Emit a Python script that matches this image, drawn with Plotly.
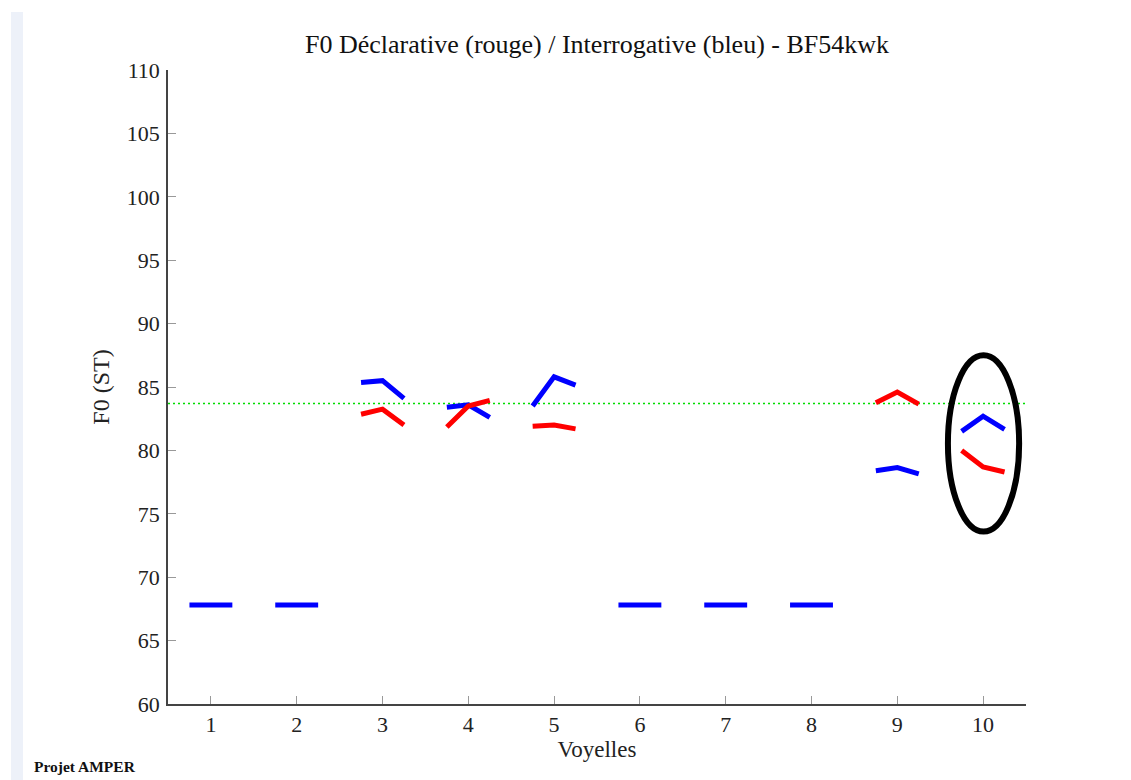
import plotly.graph_objects as go

# Vowel indices and within-vowel sample offsets (start, middle, end)
vowels = [1, 2, 3, 4, 5, 6, 7, 8, 9, 10]
offsets = [-0.25, 0.0, 0.25]

# F0 (ST) - interrogative (blue), three samples per vowel
blue_f0 = [
    [67.8, 67.8, 67.8],
    [67.8, 67.8, 67.8],
    [85.35, 85.5, 84.1],
    [83.4, 83.6, 82.6],
    [83.5, 85.8, 85.15],
    [67.8, 67.8, 67.8],
    [67.8, 67.8, 67.8],
    [67.8, 67.8, 67.8],
    [78.4, 78.65, 78.15],
    [81.5, 82.7, 81.65],
]

# F0 (ST) - declarative (red); None where no value
red_f0 = [
    None,
    None,
    [82.85, 83.25, 82.0],
    [81.85, 83.5, 83.95],
    [81.9, 82.0, 81.7],
    None,
    None,
    None,
    [83.75, 84.6, 83.65],
    [80.0, 78.7, 78.3],
]

reference_f0 = 83.7
y_ticks = [60, 65, 70, 75, 80, 85, 90, 95, 100, 105, 110]
highlight_box = [9.59, 10.42, 73.6, 87.5]  # x0, x1, y0, y1 of the circled vowel

SERIF = "Liberation Serif, Times New Roman, serif"

# page offset (body margin) compensation
W, H = 1123, 772
L, R, T, B = 160, 105, 62, 76
PW = W - L - R
PH = H - T - B

fig = go.Figure()

def add_series(values, color):
    for v, seg in zip(vowels, values):
        if seg is None:
            continue
        fig.add_trace(go.Scatter(
            x=[v + o for o in offsets], y=seg, mode="lines",
            line=dict(color=color, width=5), showlegend=False,
            hoverinfo="skip"))

fig.add_trace(go.Scatter(
    x=[0.5, 10.5], y=[reference_f0, reference_f0], mode="lines",
    line=dict(color="#00dd00", width=1.5, dash="2px,3px"), showlegend=False))

add_series(blue_f0, "#0000ff")
add_series(red_f0, "#ff0000")

fig.add_shape(type="circle", xref="x", yref="y",
              x0=highlight_box[0], x1=highlight_box[1],
              y0=highlight_box[2], y1=highlight_box[3],
              line=dict(color="black", width=6))

# light stripe at left edge of the page
fig.add_shape(type="rect", xref="paper", yref="paper",
              x0=(3 - L) / PW, x1=(15 - L) / PW,
              y0=-(H - T - PH) / PH - 0.01, y1=(T - 4) / PH + 1,
              fillcolor="#edf1f9", line=dict(width=0), layer="below")

fig.update_layout(
    width=W, height=H,
    margin=dict(l=L, r=R, t=T, b=B),
    plot_bgcolor="white", paper_bgcolor="white",
    title=dict(text="F0 Déclarative (rouge) / Interrogative (bleu) - BF54kwk",
               x=(L + PW / 2) / W, xanchor="center",
               y=1 - 36 / H, yanchor="middle",
               font=dict(family=SERIF, size=26, color="#111")),
    font=dict(family=SERIF, color="#222"),
    xaxis=dict(range=[0.5, 10.5], tickvals=vowels,
               ticktext=[str(v) for v in vowels],
               ticks="inside", ticklen=8, tickcolor="#999", tickwidth=1,
               showline=True, linecolor="#444", linewidth=1.5,
               showgrid=False, zeroline=False,
               tickfont=dict(size=22),
               title=dict(text="Voyelles", font=dict(size=23), standoff=0)),
    yaxis=dict(range=[60, 110], tickvals=y_ticks,
               ticks="inside", ticklen=8, tickcolor="#999", tickwidth=1,
               showline=True, linecolor="#444", linewidth=1.5,
               showgrid=False, zeroline=False,
               tickfont=dict(size=22), ticklabelstandoff=2,
               title=dict(text="F0 (ST)", font=dict(size=24), standoff=10)),
)

fig.add_annotation(text="<b>Projet AMPER</b>", xref="paper", yref="paper",
                   x=(24 - L) / PW, y=-(758 - (T + PH)) / PH,
                   xanchor="left", yanchor="middle", showarrow=False,
                   font=dict(family=SERIF, size=15.5, color="#111"))

fig.write_html("out.html")
